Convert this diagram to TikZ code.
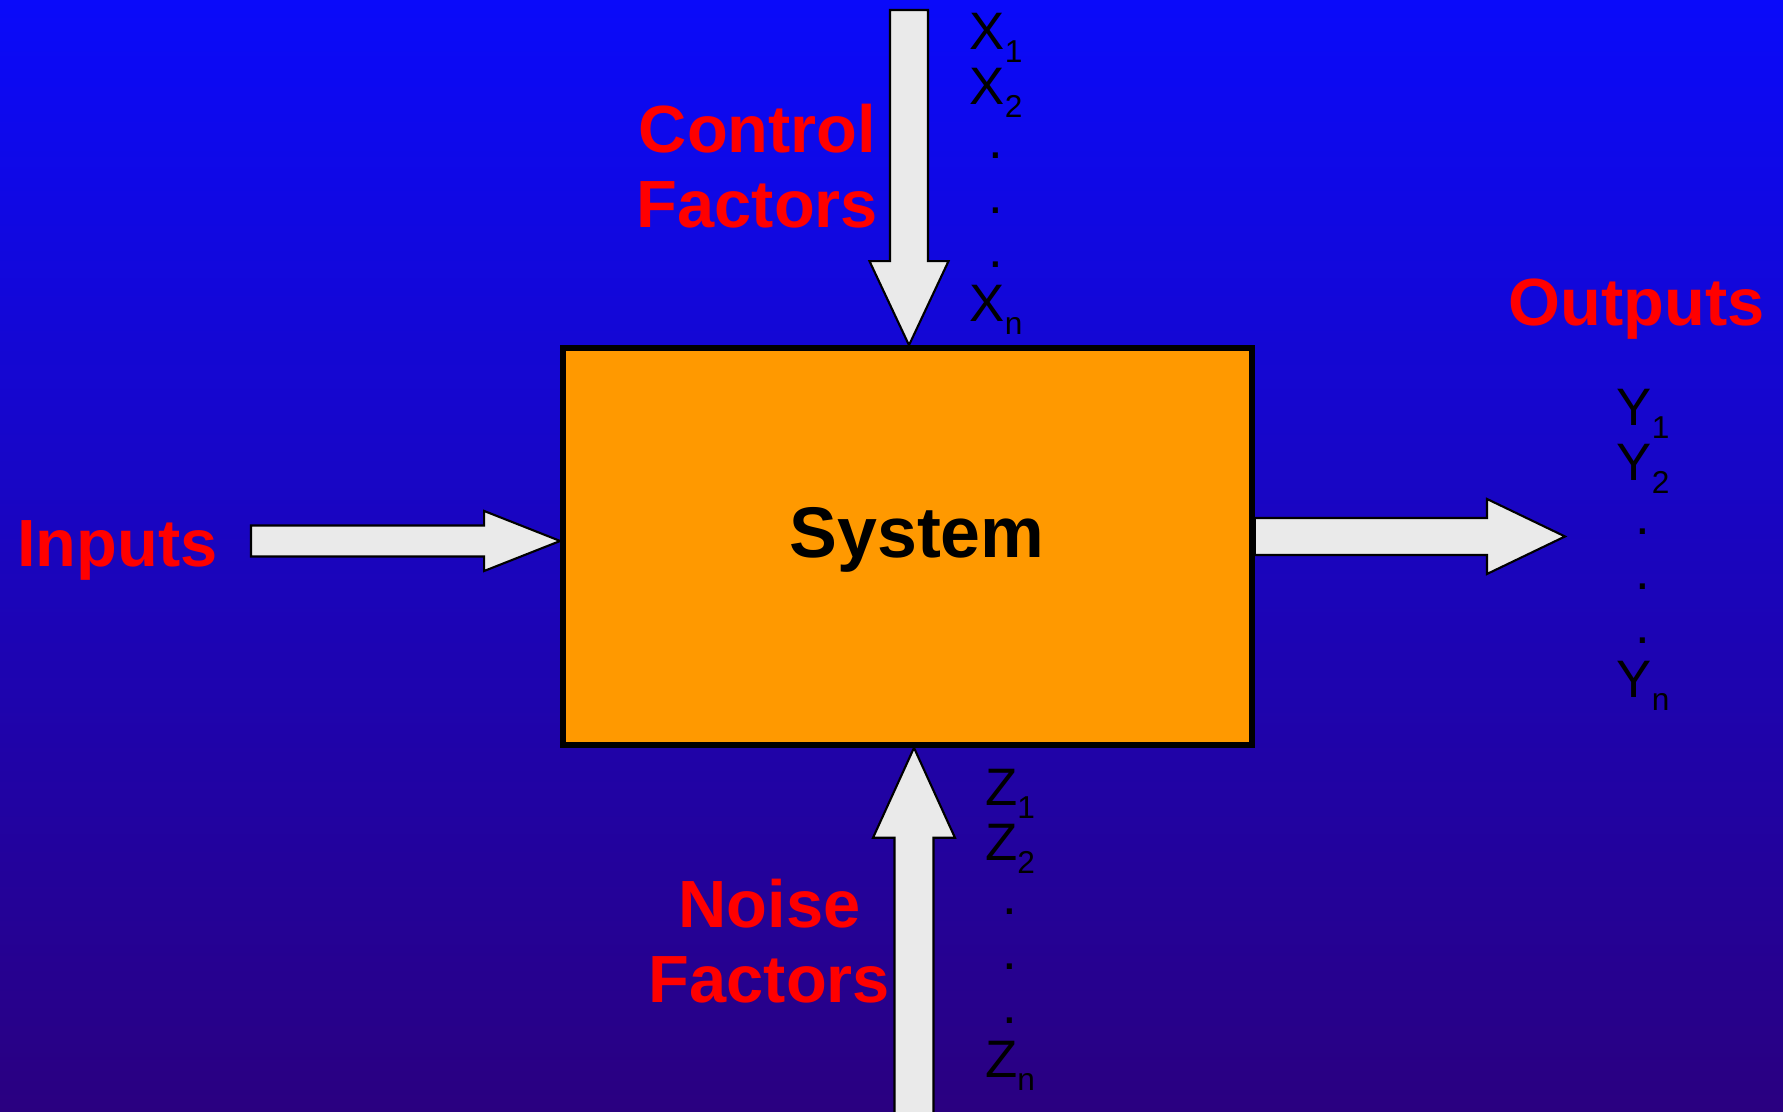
\documentclass[tikz,border=0pt]{standalone}
\usepackage{fontspec}
\setmainfont{Liberation Sans}
\definecolor{bgtop}{RGB}{10, 10, 250}
\definecolor{bgbottom}{RGB}{42, 0, 128}
\definecolor{sysorange}{RGB}{255, 153, 0}
\definecolor{arrowgray}{RGB}{234, 234, 234}
\definecolor{labelred}{RGB}{255, 0, 0}
\usetikzlibrary{calc, backgrounds}
\newcommand{\subidx}[1]{\raisebox{-3.7pt}{\fontsize{9}{9}\selectfont #1}}

\begin{document}
\begin{tikzpicture}[
  sysbox/.style={draw, line width=1.6pt, fill=sysorange, minimum width=6.89cm,
                 minimum height=3.97cm},
  redlabel/.style={text=labelred, font=\fontsize{19}{21.6}\selectfont\bfseries,
                   inner sep=0pt, align=center, anchor=base},
  idxlist/.style={font=\fontsize{15}{15.5}\selectfont, inner sep=0pt,
                  align=center, anchor=base},
  blockarrow/.style args={#1/#2/#3}{draw=black, line width=0.6pt, fill=arrowgray,
    to path={($(\tikztostart)!#1!90:(\tikztotarget)$)
      -- ($(\tikztotarget)!#3!(\tikztostart)!#1!-90:(\tikztostart)$)
      -- ($(\tikztotarget)!#3!(\tikztostart)!#2!-90:(\tikztostart)$)
      -- (\tikztotarget)
      -- ($(\tikztotarget)!#3!(\tikztostart)!#2!90:(\tikztostart)$)
      -- ($(\tikztotarget)!#3!(\tikztostart)!#1!90:(\tikztostart)$)
      -- ($(\tikztostart)!#1!-90:(\tikztotarget)$) -- cycle}},
]
\useasboundingbox (0, 0) rectangle (17.83, 11.12);
\begin{scope}[on background layer]
\shade[top color=bgtop, bottom color=bgbottom] (0, 0) rectangle (17.83, 11.12);
\end{scope}

% System
\node[sysbox] (sys) at (9.075, 5.655) {};
\node[font=\fontsize{20.4}{22}\selectfont\bfseries, inner sep=0pt, anchor=base]
  (systxt) at (9.17, 5.54) {System};

% Arrows in and out
\coordinate (ctrl) at (9.09, 11.02);
\coordinate (inp) at (2.51, 5.71);
\coordinate (outtip) at (15.65, 5.755);
\coordinate (noise) at (9.14, -0.1);
\begin{scope}[on background layer]
\draw[blockarrow=0.19cm/0.395cm/0.84cm] (ctrl) to (ctrl |- sys.north);
\draw[blockarrow=0.155cm/0.30cm/0.76cm] (inp) to (inp -| sys.west);
\draw[blockarrow=0.185cm/0.375cm/0.78cm] (sys.east |- outtip) to (outtip);
\draw[blockarrow=0.195cm/0.41cm/0.90cm] (noise) to (noise |- sys.south);
\end{scope}

% Labels
\node[redlabel] (ctrllbl) at (7.575, 8.84) {Control\\Factors};
\node[redlabel] (inplbl) at (1.175, 5.45) {Inputs};
\node[redlabel] (outlbl) at (16.365, 7.86) {Outputs};
\node[redlabel] (noiselbl) at (7.695, 1.09) {Noise\\Factors};

% Factor lists
\node[idxlist] (xlist) at (9.96, 7.90)
  {X\subidx{1}\\X\subidx{2}\\.\\.\\.\\X\subidx{n}};
\node[idxlist] (ylist) at (16.43, 4.14)
  {Y\subidx{1}\\Y\subidx{2}\\.\\.\\.\\Y\subidx{n}};
\node[idxlist] (zlist) at (10.10, 0.34)
  {Z\subidx{1}\\Z\subidx{2}\\.\\.\\.\\Z\subidx{n}};
\end{tikzpicture}
\end{document}
